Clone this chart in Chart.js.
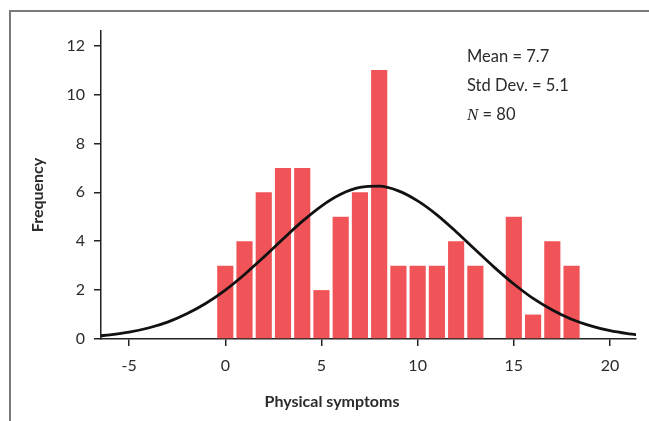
<!DOCTYPE html>
<html>
<head>
<meta charset="utf-8">
<script src="https://cdn.jsdelivr.net/npm/chart.js@4.4.1/dist/chart.umd.min.js"></script>
<style>
  html, body { margin: 0; padding: 0; background: #fff; }
  #wrap { position: relative; width: 649px; height: 421px; overflow: hidden; }
  #frame { position: absolute; left: 9px; top: 10px; width: 700px; height: 500px;
           border-left: 2px solid #7a7a7a; border-top: 2px solid #7a7a7a; }
  canvas { position: absolute; left: 0; top: 0; }
  #stats { position: absolute; left: 467px; top: 42px; font-family: Lato, "Open Sans", sans-serif;
           font-size: 16.5px; color: #2b2b2b; line-height: 29px; }
  #stats i { font-family: "Liberation Serif", "DejaVu Serif", serif; font-size: 17px; }
  .axis-title { position: absolute; font-family: Lato, "Open Sans", sans-serif; font-weight: bold;
                font-size: 16px; color: #2b2b2b; white-space: nowrap; line-height: 20px; }
  #xTitle { left: 232px; width: 200px; top: 391px; text-align: center; }
  #yTitle { left: -63px; width: 200px; top: 185px; text-align: center; transform: rotate(-90deg); }
</style>
</head>
<body>
<div id="wrap">
  <div id="frame"></div>
  <canvas id="histChart" width="649" height="421"></canvas>
  <div id="stats">
    <div>Mean = 7.7</div>
    <div>Std Dev. = 5.1</div>
    <div><i>N</i> = 80</div>
  </div>
  <div id="xTitle" class="axis-title">Physical symptoms</div>
  <div id="yTitle" class="axis-title">Frequency</div>
</div>
<script>
// 直方图数据（每个整数取值的频数）
const symptomScores = [0, 1, 2, 3, 4, 5, 6, 7, 8, 9, 10, 11, 12, 13, 14, 15, 16, 17, 18];
const frequencies   = [3, 4, 6, 7, 7, 2, 5, 6, 11, 3, 3, 3, 4, 3, 0, 5, 1, 4, 3];

// 正态曲线（从图上读取的点）
const curveX = [-6.5, -6, -5, -4, -3, -2, -1, 0, 1, 2, 3, 4, 5, 6, 7, 8, 9, 10, 11, 12, 13, 14, 15, 16, 17, 18, 19, 20, 21, 21.5];
const curveY = [0.13, 0.17, 0.28, 0.45, 0.69, 1.03, 1.46, 2.00, 2.64, 3.35, 4.09, 4.81, 5.44, 5.92, 6.20, 6.25, 6.06, 5.65, 5.08, 4.39, 3.65, 2.92, 2.25, 1.66, 1.19, 0.81, 0.54, 0.34, 0.21, 0.16];

const xTicks = [-5, 0, 5, 10, 15, 20];
const yTicks = [0, 2, 4, 6, 8, 10, 12];

const FONT = 'Lato, "Open Sans", sans-serif';
const AXIS_COLOR = '#222222';

const createHistChart = () => {
  const canvas = document.getElementById('histChart');
  if (!canvas) return;

  window.histChartInstance = new Chart(canvas.getContext('2d'), {
    type: 'bar',
    data: {
      datasets: [{
        type: 'line',
        label: 'Normal',
        data: curveX.map((x, i) => ({ x, y: curveY[i] })),
        borderColor: '#111111',
        borderWidth: 2.8,
        pointRadius: 0,
        tension: 0.4,
        cubicInterpolationMode: 'monotone',
        fill: false,
        order: 0
      }, {
        type: 'bar',
        label: 'Frequency',
        data: symptomScores.map((x, i) => ({ x, y: frequencies[i] })),
        backgroundColor: 'rgb(240, 84, 88)',
        borderWidth: 0,
        barPercentage: 1,
        categoryPercentage: 0.84,
        order: 1
      }]
    },
    options: {
      responsive: false,
      maintainAspectRatio: false,
      animation: false,
      devicePixelRatio: 1,
      layout: { padding: { top: 31, right: 13, left: 0, bottom: 0 } },
      plugins: {
        legend: { display: false },
        tooltip: { enabled: false }
      },
      scales: {
        x: {
          type: 'linear',
          min: -6.46,
          max: 21.35,
          offset: false,
          afterBuildTicks: (scale) => { scale.ticks = xTicks.map(v => ({ value: v })); },
          afterFit: (scale) => { scale.height = 82; },
          grid: { display: true, offset: false, drawOnChartArea: false, drawTicks: true, tickLength: 7, color: AXIS_COLOR, lineWidth: 1.5 },
          border: { display: true, color: AXIS_COLOR, width: 1.5 },
          ticks: { color: '#2b2b2b', font: { family: FONT, size: 16 }, padding: 10, maxRotation: 0 },
          title: { display: false }
        },
        y: {
          type: 'linear',
          min: 0,
          max: 12.6,
          afterBuildTicks: (scale) => { scale.ticks = yTicks.map(v => ({ value: v })); },
          afterFit: (scale) => { scale.width = 101; },
          grid: { display: true, drawOnChartArea: false, drawTicks: true, tickLength: 7, color: AXIS_COLOR, lineWidth: 1.5 },
          border: { display: true, color: AXIS_COLOR, width: 1.5 },
          ticks: { color: '#2b2b2b', font: { family: FONT, size: 16 }, padding: 9 },
          title: { display: false }
        }
      }
    }
  });
};

createHistChart();
</script>
</body>
</html>
